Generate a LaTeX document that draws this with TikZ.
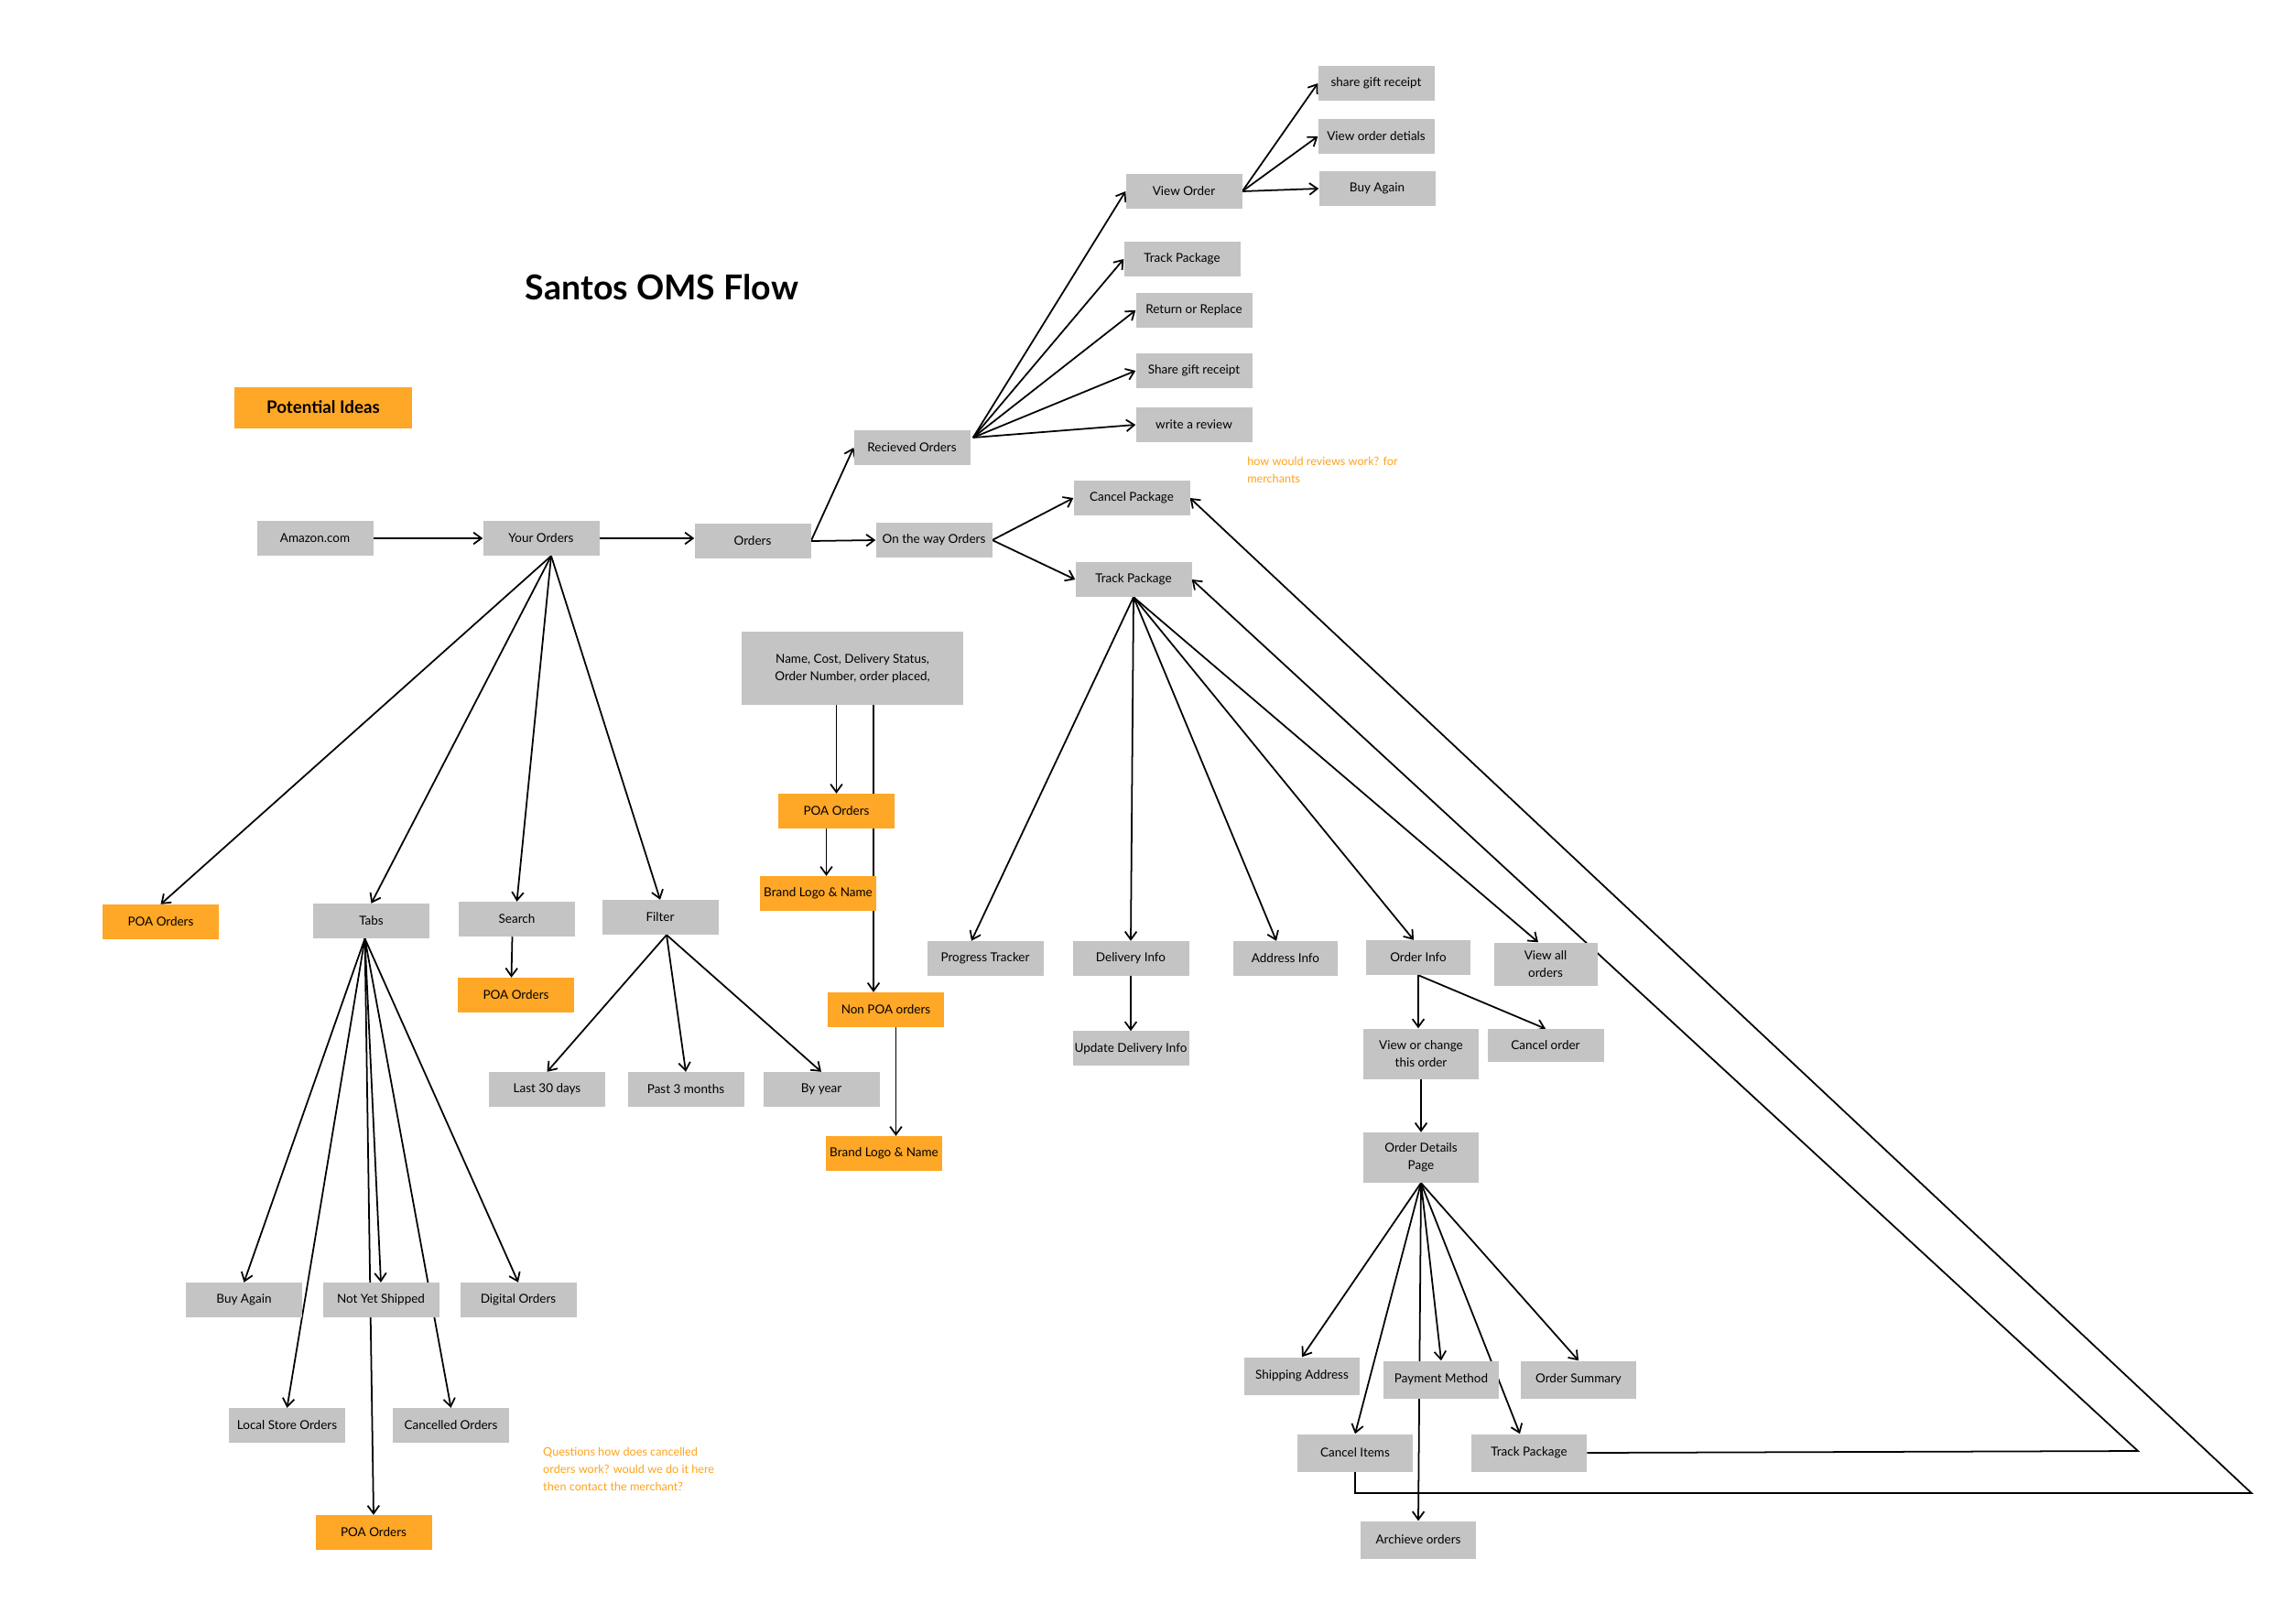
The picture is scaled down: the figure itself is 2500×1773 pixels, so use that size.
\documentclass[tikz,border=0pt]{standalone}
\usepackage{fontspec}
\setmainfont{Lato}
\usetikzlibrary{arrows.meta, positioning, calc, backgrounds}
\definecolor{boxgray}{HTML}{C4C4C4}
\definecolor{poaorange}{HTML}{FFA726}
\definecolor{noteorange}{HTML}{FFA31A}
\newcommand{\bxfont}{\fontsize{11.5}{16}\selectfont}
\newcommand{\ntfont}{\fontsize{10.8}{16.2}\selectfont}
\tikzset{
  box/.style    = {rectangle, fill=boxgray, minimum width=38.1mm,
                   minimum height=11.4mm, inner sep=0pt, align=center,
                   font=\bxfont},
  poa/.style    = {box, fill=poaorange},
  tall/.style   = {minimum width=37.8mm, minimum height=16.5mm},
  mid/.style    = {minimum width=37.8mm, minimum height=12.3mm},
  note/.style   = {text=noteorange, align=left, anchor=west,
                   inner sep=0pt, font=\ntfont},
  arrow/.style  = {-{Straight Barb[length=2.6mm, width=3.8mm]},
                   line width=1.5pt},
}

\begin{document}
\begin{tikzpicture}[x=0.3mm, y=-0.3mm]
  \useasboundingbox (0,0) rectangle (2500,1773);

  % ---- heading ----
  \node[font=\fontsize{32}{38}\selectfont\bfseries] (title) at (723,314) {Santos OMS Flow};
  \node[poa, minimum width=58.2mm, minimum height=13.5mm,
        font=\fontsize{16}{19}\selectfont\bfseries] (ideas) at (353,445) {Potential Ideas};

  % ---- main row ----
  \node[box] (amazon)     at (344,588)  {Amazon.com};
  \node[box] (yourorders) at (591,588)  {Your Orders};
  \node[box] (orders)     at (822,591)  {Orders};
  \node[box] (recv)       at (996,489)  {Recieved Orders};
  \node[box] (ontheway)   at (1020,590) {On the way Orders};

  % ---- received orders ----
  \node[box] (vieworder) at (1293,209) {View Order};
  \node[box] (giftrcpt)  at (1503,91)  {share gift receipt};
  \node[box] (orderdet)  at (1503,149) {View order detials};
  \node[box] (buyagain)  at (1504,206) {Buy Again};
  \node[box] (trackrecv) at (1291,283) {Track Package};
  \node[box] (returnrep) at (1304,339) {Return or Replace};
  \node[box] (sharegift) at (1304,405) {Share gift receipt};
  \node[box] (review)    at (1304,464) {write a review};
  \node[note] (reviewnote) at (1362,513) {how would reviews work? for\\merchants};

  % ---- on the way ----
  \node[box] (cancelpkg) at (1236,544) {Cancel Package};
  \node[box] (trackpkg)  at (1238,633) {Track Package};
  \node[box] (progress)  at (1076,1047) {Progress Tracker};
  \node[box] (delivery)  at (1235,1047) {Delivery Info};
  \node[box, below=18mm of delivery] (upddelivery) {Update Delivery Info};
  \node[box, minimum width=34.2mm] (address)   at (1404,1047) {Address Info};
  \node[box, minimum width=34.2mm] (orderinfo) at (1549,1046) {Order Info};
  \node[box, minimum width=33.9mm, minimum height=14.1mm] (viewall) at (1688,1053) {View all\\orders};
  \node[box, tall] (viewchange) at (1552,1151) {View or change\\this order};
  \node[box, minimum height=10.8mm] (cancelorder) at (1688,1142) {Cancel order};
  \node[box, tall, below=17.4mm of viewchange] (odp) {Order Details\\Page};

  \node[box, mid] (shipaddr)    at (1422,1503) {Shipping Address};
  \node[box, mid] (payment)     at (1574,1507) {Payment Method};
  \node[box, mid] (summary)     at (1724,1507) {Order Summary};
  \node[box, mid] (cancelitems) at (1480,1587) {Cancel Items};
  \node[box, mid] (trackdet)    at (1670,1587) {Track Package};
  \node[box, mid] (archive)     at (1549,1682) {Archieve orders};

  % ---- order fields ----
  \node[box, minimum width=72.6mm, minimum height=24mm] (fields) at (931,730)
        {Name, Cost, Delivery Status,\\Order Number, order placed,};
  \node[poa] (poamid)   at (913.5,886)  {POA Orders};
  \node[poa] (brandpoa) at (893.5,976)  {Brand Logo \& Name};
  \node[poa] (nonpoa)   at (967.5,1103) {Non POA orders};
  \node[poa] (brandnon) at (965.5,1260) {Brand Logo \& Name};

  % ---- your orders ----
  \node[poa] (poayo)     at (175.5,1007) {POA Orders};
  \node[box] (tabs)      at (405.5,1006) {Tabs};
  \node[box] (search)    at (564.5,1004) {Search};
  \node[box] (filter)    at (721,1002)   {Filter};
  \node[poa] (poasearch) at (563.5,1087) {POA Orders};
  \node[box] (last30)    at (597.5,1190) {Last 30 days};
  \node[box] (past3)     at (749,1190)   {Past 3 months};
  \node[box] (byyear)    at (897,1190)   {By year};
  \node[box] (buyagaintab) at (266.5,1420) {Buy Again};
  \node[box] (notyet)      at (416,1420)   {Not Yet Shipped};
  \node[box] (digital)     at (566,1420)   {Digital Orders};
  \node[box] (localstore)  at (313.5,1557) {Local Store Orders};
  \node[box] (cancelled)   at (492.5,1557) {Cancelled Orders};
  \node[poa] (poatab)      at (408,1674)   {POA Orders};
  \node[note] (cancelnote) at (593,1605)
        {Questions how does cancelled\\orders work? would we do it here\\then contact the merchant?};

  % helper points
  \coordinate (yo-out)   at ($(yourorders.south)+(11,0)$);
  \coordinate (tab-out)  at ($(tabs.south)+(-7,0)$);
  \coordinate (fil-out)  at ($(filter.south)+(7,0)$);
  \coordinate (rc-out)   at ($(recv.east)+(3,-11)$);
  \coordinate (non-in)   at ($(fields.south)+(23,0)$);
  \coordinate (poa-out)  at ($(poamid.south)+(-11,0)$);
  \coordinate (non-out)  at ($(nonpoa.south)+(11,0)$);
  \coordinate (trackturn)  at (2335,1585);
  \coordinate (cancelturn) at (2459,1631);

  \begin{scope}[on background layer]
    \fill[white] (0,0) rectangle (2500,1773);

    % main row
    \draw[arrow] (amazon) -- (yourorders);
    \draw[arrow] (yourorders.east) -- (yourorders.east -| orders.west);
    \draw[arrow] (orders.east) -- (recv.west);
    \draw[arrow] (orders.east) -- (ontheway.west);

    % your orders
    \foreach \n in {poayo, tabs, search, filter}
      \draw[arrow] (yo-out) -- (\n.north);
    \foreach \n in {buyagaintab, localstore, notyet, poatab, cancelled, digital}
      \draw[arrow] (tab-out) -- (\n.north);
    \draw[arrow] ([xshift=-1.5mm]search.south) -- ([xshift=-1.5mm]poasearch.north);
    \foreach \n in {last30, past3, byyear}
      \draw[arrow] (fil-out) -- (\n.north);

    % order fields
    \draw[arrow] (fields.south -| poamid.north) -- (poamid.north);
    \draw[arrow] (non-in) -- (non-in |- nonpoa.north);
    \draw[arrow] (poa-out) -- (poa-out |- brandpoa.north);
    \draw[arrow] (non-out) -- (non-out |- brandnon.north);

    % received
    \foreach \n in {vieworder, trackrecv, returnrep, sharegift, review}
      \draw[arrow] (rc-out) -- (\n.west);
    \foreach \n in {giftrcpt, orderdet, buyagain}
      \draw[arrow] (vieworder.east) -- (\n.west);

    % on the way
    \draw[arrow] (ontheway.east) -- (cancelpkg.west);
    \draw[arrow] (ontheway.east) -- (trackpkg.west);
    \draw[arrow] (trackpkg.south) -- ([xshift=-4.5mm]progress.north);
    \draw[arrow] (trackpkg.south) -- (delivery.north);
    \draw[arrow] (trackpkg.south) -- ([xshift=-3mm]address.north);
    \draw[arrow] (trackpkg.south) -- ([xshift=-1.5mm]orderinfo.north);
    \draw[arrow] (trackpkg.south) -- ([xshift=-2.4mm]viewall.north);
    \draw[arrow] (delivery) -- (upddelivery);
    \draw[arrow] (orderinfo.south) -- (orderinfo.south |- viewchange.north);
    \draw[arrow] (orderinfo.south) -- (cancelorder.north);
    \draw[arrow] (viewchange) -- (odp);
    \foreach \n in {shipaddr, payment, summary, cancelitems, archive}
      \draw[arrow] (odp.south) -- (\n.north);
    \draw[arrow] (odp.south) -- ([xshift=-3mm]trackdet.north);

    % loops back
    \draw[arrow] (trackdet.east) -- (trackturn) -- (trackpkg.east);
    \draw[arrow] (cancelitems.south) |- (cancelturn) -- (cancelpkg.east);
  \end{scope}
\end{tikzpicture}
\end{document}
